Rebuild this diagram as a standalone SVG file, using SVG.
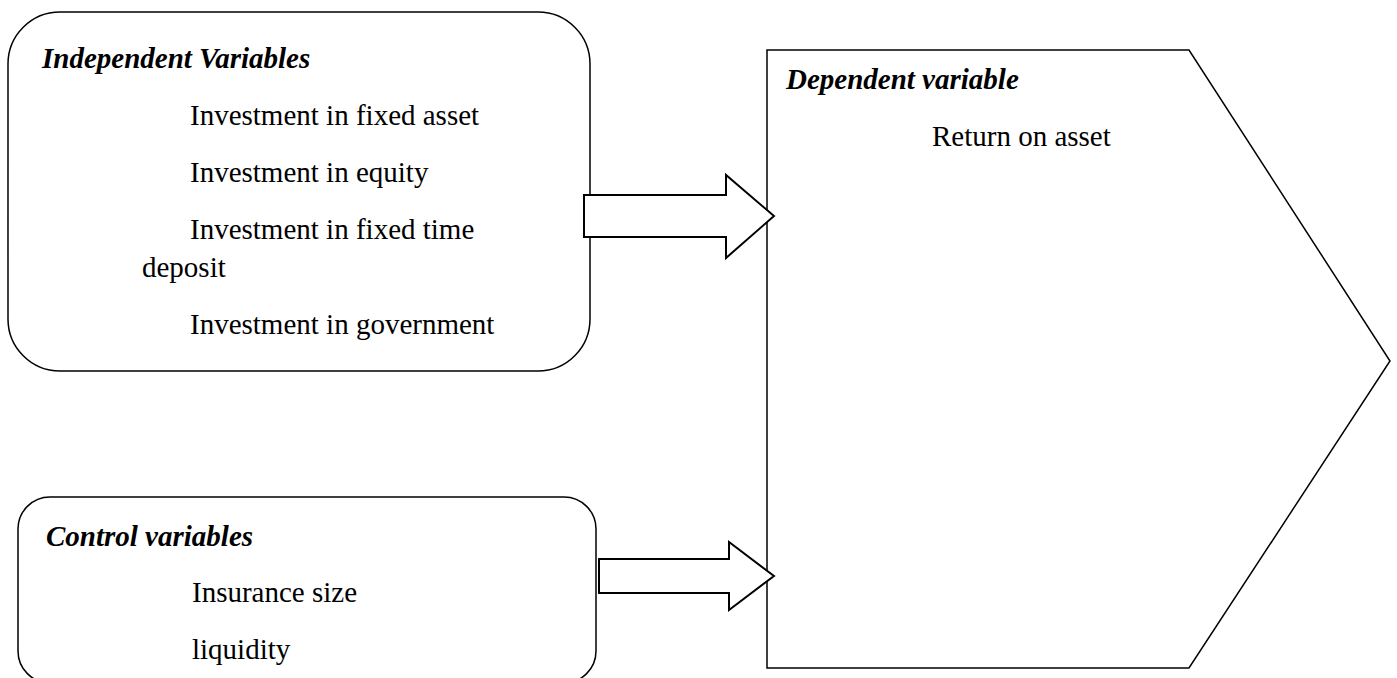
<svg xmlns="http://www.w3.org/2000/svg" width="1397" height="678" viewBox="0 0 1397 678">
<style>
.shape{fill:#fff;stroke:#000;stroke-width:1.5}
.arrow{fill:#fff;stroke:#000;stroke-width:2}
.t{font-family:"Liberation Serif","Times New Roman",serif;font-size:29px;fill:#000}
.h{font-weight:bold;font-style:italic}
</style>
<rect width="1397" height="678" fill="#fff"/>
<g id="dependent">
<path class="shape" d="M767,50 L1189,50 L1390,361 L1189,668 L767,668 Z"/>
<text class="t h" x="786" y="89">Dependent variable</text>
<text class="t" x="932" y="146">Return on asset</text>
</g>
<g id="independent">
<rect class="shape" x="8" y="12" width="582" height="359" rx="52" ry="52"/>
<text class="t h" x="42" y="68">Independent Variables</text>
<text class="t" x="190" y="125">Investment in fixed asset</text>
<text class="t" x="190" y="182">Investment in equity</text>
<text class="t" x="190" y="239">Investment in fixed time</text>
<text class="t" x="142" y="277">deposit</text>
<text class="t" x="190" y="334">Investment in government</text>
</g>
<g id="control">
<rect class="shape" x="18" y="497" width="578" height="186" rx="32" ry="32"/>
<text class="t h" x="46" y="546">Control variables</text>
<text class="t" x="192" y="602">Insurance size</text>
<text class="t" x="192" y="659">liquidity</text>
</g>
<g id="connectors">
<path class="arrow" d="M584,195 L726,195 L726,175 L774,216 L726,258 L726,237 L584,237 Z"/>
<path class="arrow" d="M599,559 L729,559 L729,542 L774,576 L729,610 L729,593 L599,593 Z"/>
</g>
</svg>
